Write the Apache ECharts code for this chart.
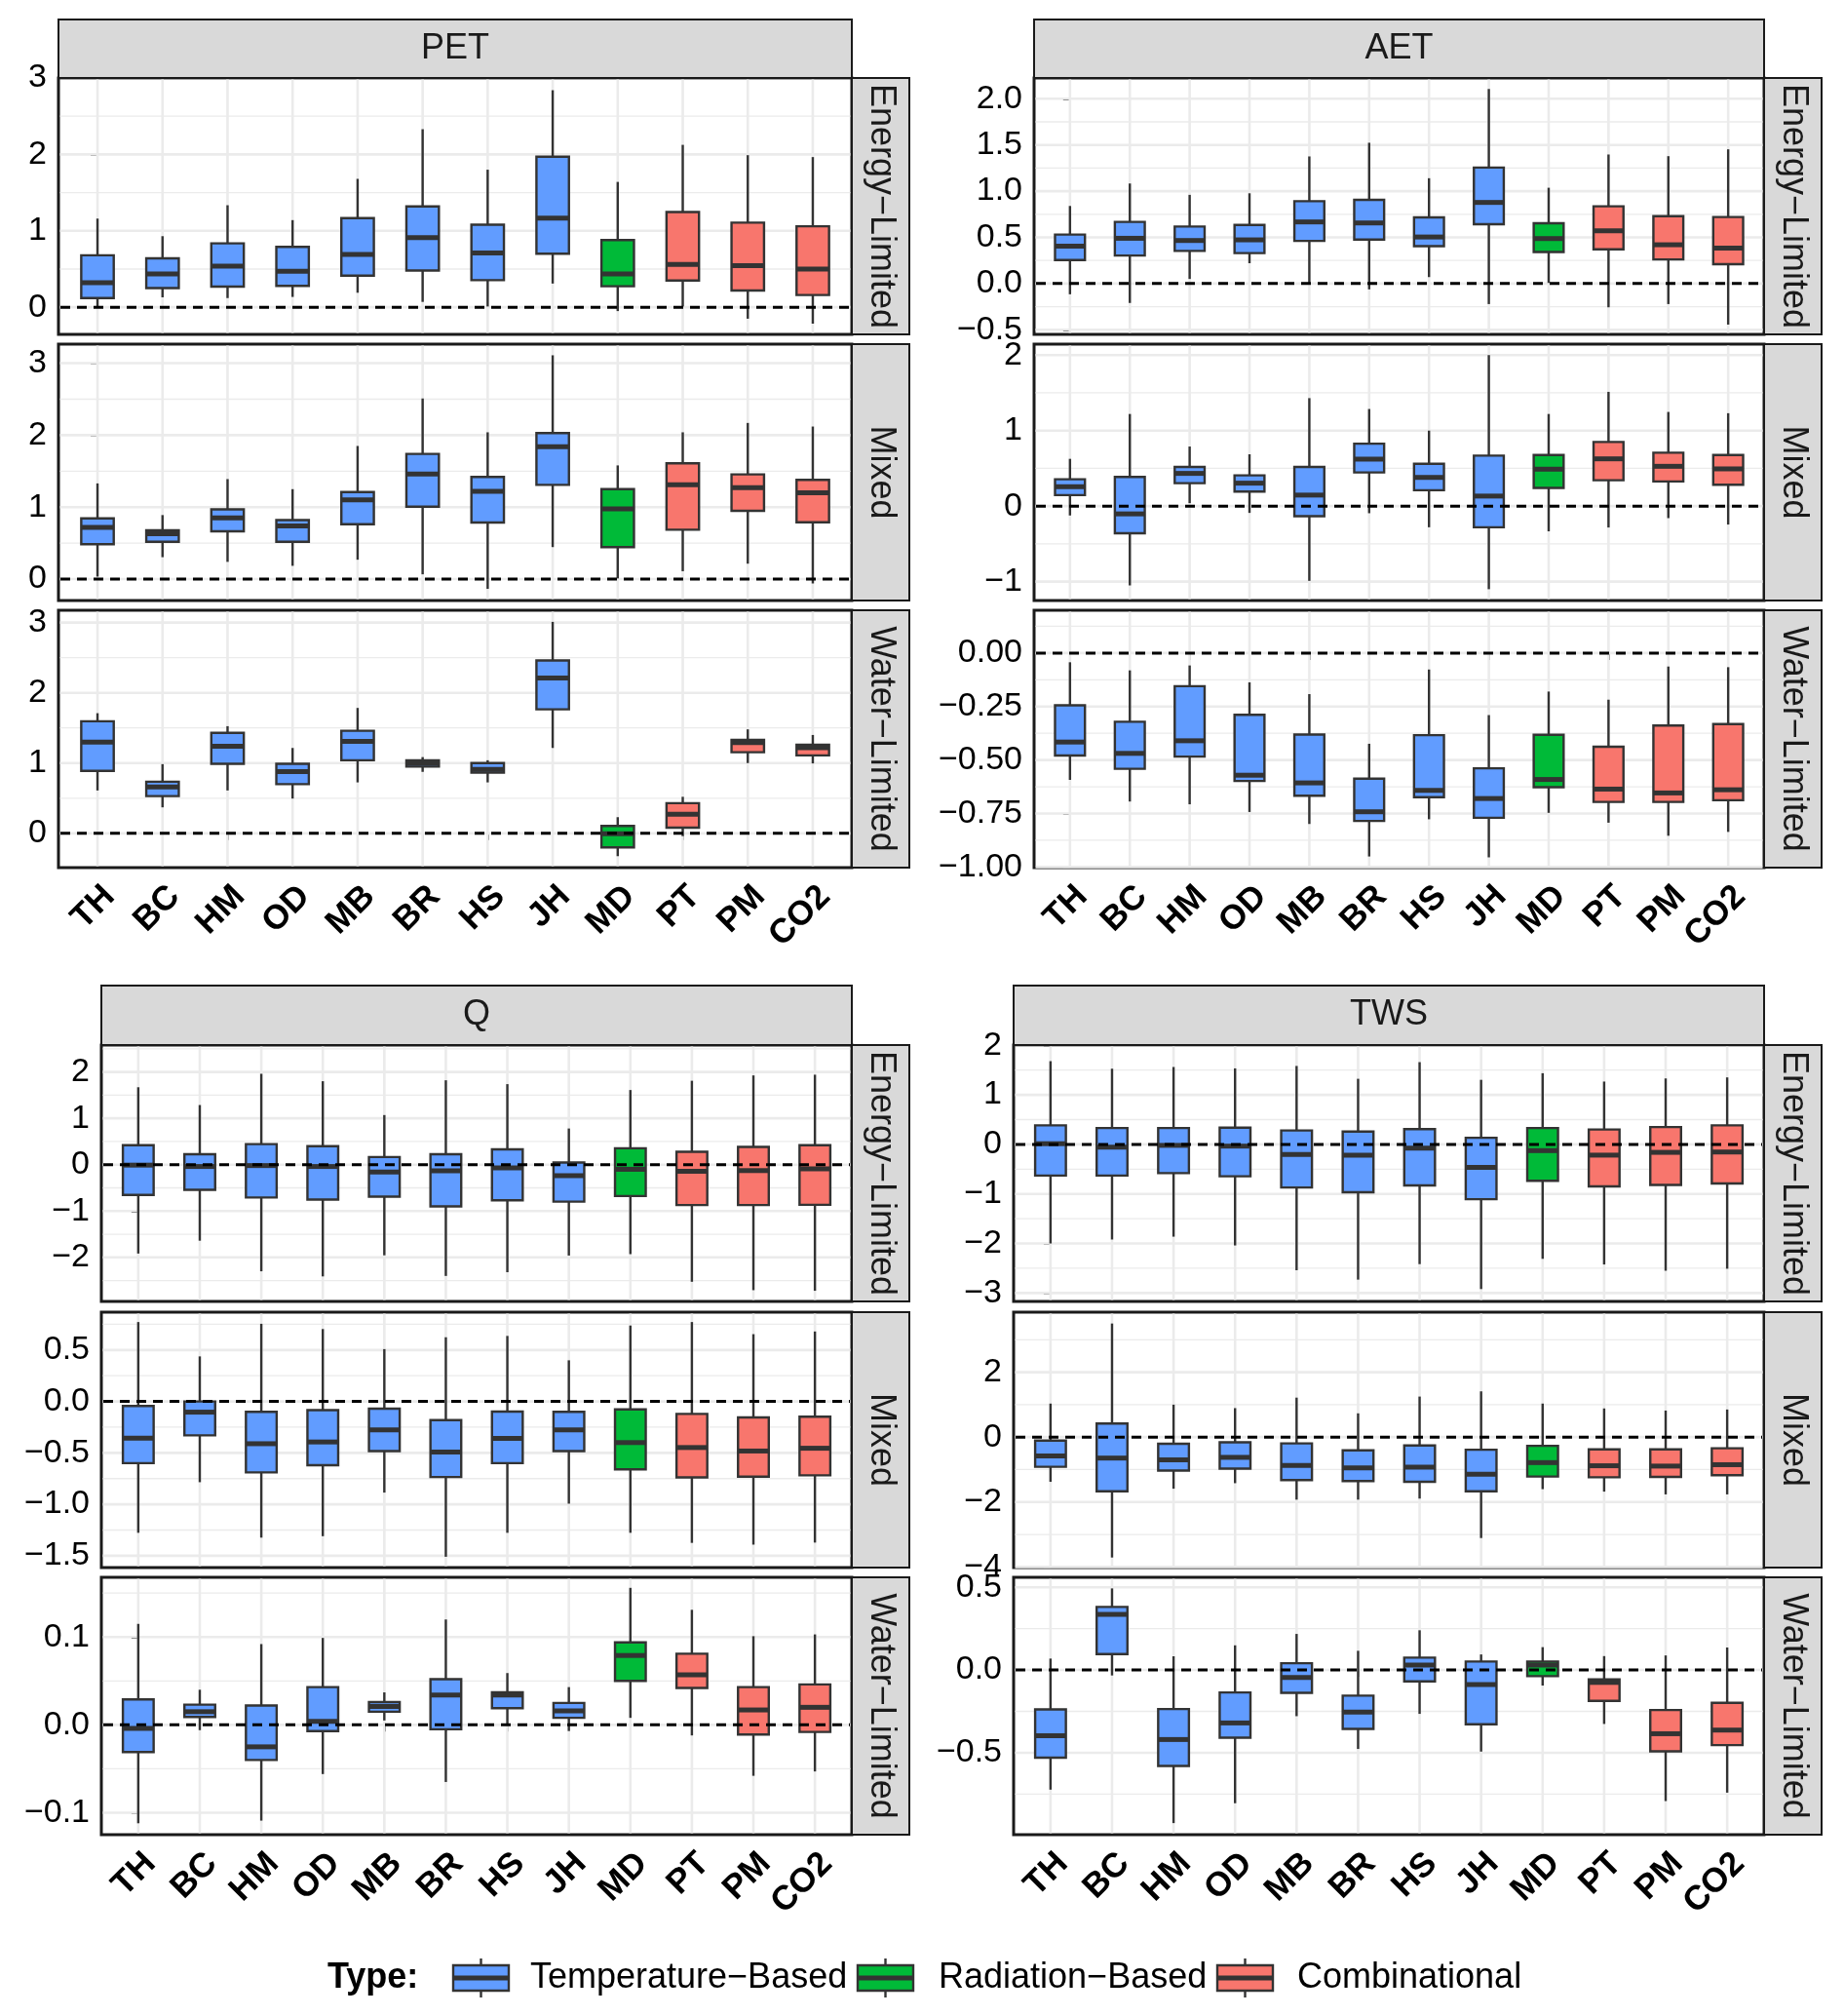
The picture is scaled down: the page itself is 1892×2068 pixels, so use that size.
<!DOCTYPE html>
<html><head><meta charset="utf-8">
<script src="https://cdn.jsdelivr.net/npm/echarts@6/dist/echarts.min.js"></script>
<style>html,body{margin:0;padding:0;background:#fff}#c{width:1892px;height:2068px}</style>
</head><body><div id="c"></div>
<script>
// ---------------- DATA ----------------
const categories = ['TH','BC','HM','OD','MB','BR','HS','JH','MD','PT','PM','CO2'];
const methodType = ['T','T','T','T','T','T','T','T','R','C','C','C'];
const typeNames = {T:'Temperature\u2212Based', R:'Radiation\u2212Based', C:'Combinational'};
const regimes = ['Energy\u2212Limited','Mixed','Water\u2212Limited'];

// each row: [lower whisker, Q1, median, Q3, upper whisker]
const PET_energy = [[-0.01,0.12,0.32,0.68,1.16],[0.13,0.25,0.435,0.64,0.93],[0.12,0.27,0.537,0.836,1.335],[0.135,0.28,0.47,0.79,1.14],[0.19,0.414,0.69,1.166,1.68],[0.07,0.48,0.91,1.32,2.33],[0.01,0.355,0.71,1.08,1.80],[0.31,0.70,1.166,1.97,2.84],[-0.05,0.275,0.435,0.88,1.64],[0.01,0.35,0.56,1.246,2.125],[-0.15,0.22,0.545,1.107,1.99],[-0.215,0.16,0.50,1.06,1.965]];
const PET_mixed = [[0.035,0.485,0.72,0.845,1.33],[0.305,0.52,0.63,0.68,0.89],[0.24,0.665,0.85,0.97,1.39],[0.185,0.52,0.74,0.82,1.25],[0.27,0.763,1.10,1.21,1.85],[0.067,1.006,1.46,1.74,2.51],[-0.135,0.786,1.22,1.42,2.04],[0.445,1.31,1.84,2.03,3.11],[0.01,0.445,0.975,1.25,1.58],[0.11,0.687,1.31,1.61,2.04],[0.215,0.95,1.27,1.455,2.17],[-0.06,0.79,1.20,1.38,2.12]];
const PET_water = [[0.61,0.89,1.30,1.595,1.71],[0.37,0.53,0.66,0.735,0.985],[0.61,0.99,1.24,1.43,1.525],[0.495,0.70,0.88,0.99,1.215],[0.725,1.04,1.31,1.46,1.785],[0.875,0.95,0.995,1.04,1.085],[0.725,0.865,0.91,1.0,1.04],[1.215,1.765,2.21,2.46,3.01],[-0.325,-0.2,-0.005,0.105,0.23],[-0.04,0.08,0.27,0.43,0.52],[1.0,1.155,1.29,1.33,1.48],[0.995,1.11,1.22,1.26,1.40]];
const AET_energy = [[-0.116,0.254,0.405,0.53,0.84],[-0.21,0.303,0.49,0.667,1.083],[0.05,0.353,0.466,0.617,0.96],[0.22,0.33,0.473,0.635,0.977],[0.007,0.462,0.667,0.892,1.376],[-0.063,0.476,0.656,0.906,1.524],[0.07,0.405,0.504,0.716,1.14],[-0.222,0.642,0.878,1.256,2.106],[0.007,0.342,0.487,0.653,1.037],[-0.257,0.37,0.571,0.836,1.397],[-0.222,0.261,0.42,0.73,1.379],[-0.444,0.21,0.384,0.72,1.453]];
const AET_mixed = [[-0.124,0.146,0.257,0.356,0.626],[-1.05,-0.36,-0.103,0.386,1.22],[0.039,0.304,0.433,0.519,0.789],[-0.09,0.193,0.304,0.407,0.686],[-0.99,-0.133,0.146,0.519,1.43],[-0.094,0.446,0.622,0.827,1.286],[-0.28,0.21,0.38,0.56,1.0],[-1.10,-0.28,0.133,0.669,2.0],[-0.334,0.24,0.489,0.677,1.22],[-0.283,0.343,0.626,0.849,1.513],[-0.159,0.326,0.527,0.707,1.247],[-0.244,0.283,0.493,0.677,1.23]];
const AET_water = [[-0.593,-0.479,-0.416,-0.244,-0.043],[-0.694,-0.541,-0.469,-0.321,-0.081],[-0.707,-0.484,-0.41,-0.155,-0.058],[-0.743,-0.598,-0.571,-0.289,-0.137],[-0.799,-0.667,-0.607,-0.381,-0.192],[-0.951,-0.785,-0.742,-0.587,-0.424],[-0.777,-0.674,-0.642,-0.384,-0.077],[-0.955,-0.77,-0.68,-0.539,-0.29],[-0.747,-0.627,-0.591,-0.382,-0.18],[-0.793,-0.696,-0.636,-0.438,-0.218],[-0.854,-0.696,-0.654,-0.339,-0.063],[-0.836,-0.688,-0.639,-0.332,-0.066]];
const Q_energy = [[-1.917,-0.654,-0.01,0.42,1.67],[-1.64,-0.541,-0.04,0.226,1.286],[-2.30,-0.707,-0.02,0.444,1.96],[-2.41,-0.752,-0.04,0.40,1.80],[-1.955,-0.69,-0.158,0.165,1.07],[-2.40,-0.90,-0.135,0.226,1.82],[-2.32,-0.767,-0.07,0.33,1.737],[-1.96,-0.797,-0.24,0.045,0.78],[-1.93,-0.677,-0.10,0.353,1.61],[-2.526,-0.872,-0.143,0.278,1.81],[-2.707,-0.872,-0.128,0.383,1.925],[-2.72,-0.865,-0.09,0.42,1.94]];
const Q_mixed = [[-1.277,-0.60,-0.357,-0.044,0.772],[-0.785,-0.33,-0.104,0.0,0.438],[-1.324,-0.69,-0.411,-0.101,0.755],[-1.31,-0.62,-0.394,-0.084,0.704],[-0.886,-0.482,-0.276,-0.07,0.509],[-1.51,-0.735,-0.492,-0.182,0.624],[-1.277,-0.60,-0.36,-0.098,0.637],[-0.994,-0.482,-0.276,-0.101,0.40],[-1.277,-0.66,-0.40,-0.078,0.738],[-1.375,-0.738,-0.448,-0.121,0.772],[-1.392,-0.731,-0.482,-0.155,0.654],[-1.372,-0.718,-0.455,-0.148,0.68]];
const Q_water = [[-0.112,-0.031,-0.004,0.029,0.115],[-0.006,0.009,0.015,0.023,0.040],[-0.109,-0.04,-0.025,0.022,0.092],[-0.056,-0.007,0.004,0.043,0.099],[0.005,0.015,0.021,0.026,0.037],[-0.065,-0.005,0.034,0.052,0.12],[0.0,0.019,0.034,0.037,0.059],[-0.007,0.008,0.016,0.025,0.043],[0.008,0.05,0.079,0.094,0.156],[-0.012,0.042,0.057,0.081,0.131],[-0.058,-0.011,0.017,0.043,0.101],[-0.053,-0.008,0.02,0.046,0.103]];
const TWS_energy = [[-2.0,-0.63,0.014,0.385,1.68],[-1.92,-0.63,-0.056,0.33,1.527],[-1.863,-0.58,-0.02,0.33,1.562],[-2.04,-0.644,-0.035,0.336,1.534],[-2.54,-0.87,-0.203,0.28,1.583],[-2.73,-0.967,-0.217,0.26,1.324],[-2.417,-0.827,-0.077,0.308,1.66],[-2.92,-1.107,-0.462,0.133,1.303],[-2.31,-0.736,-0.126,0.33,1.436],[-2.424,-0.848,-0.217,0.30,1.268],[-2.55,-0.82,-0.161,0.35,1.331],[-2.51,-0.79,-0.154,0.385,1.352]];
const TWS_mixed = [[-1.378,-0.915,-0.58,-0.108,1.033],[-3.71,-1.668,-0.646,0.42,3.50],[-1.59,-1.033,-0.70,-0.205,1.0],[-1.42,-0.969,-0.624,-0.161,0.893],[-1.927,-1.324,-0.872,-0.194,1.216],[-1.927,-1.356,-0.947,-0.409,0.732],[-1.894,-1.378,-0.926,-0.258,1.249],[-3.11,-1.668,-1.141,-0.388,1.41],[-1.604,-1.216,-0.786,-0.269,1.033],[-1.68,-1.238,-0.883,-0.377,0.883],[-1.765,-1.227,-0.893,-0.377,0.818],[-1.765,-1.173,-0.85,-0.344,0.85]];
const TWS_water = [[-0.723,-0.53,-0.397,-0.238,0.069],[-0.033,0.096,0.336,0.381,0.493],[-0.925,-0.58,-0.42,-0.236,0.083],[-0.805,-0.409,-0.32,-0.136,0.149],[-0.279,-0.138,-0.045,0.041,0.218],[-0.477,-0.356,-0.255,-0.155,0.116],[-0.265,-0.069,0.03,0.075,0.24],[-0.493,-0.328,-0.088,0.051,0.094],[-0.094,-0.037,0.03,0.051,0.138],[-0.326,-0.187,-0.075,-0.057,0.084],[-0.792,-0.491,-0.385,-0.242,0.088],[-0.741,-0.454,-0.363,-0.198,0.136]];

// y tick labels per panel
const PET_ticks = [0,1,2,3];
const AET_energy_ticks = [-0.5,0,0.5,1,1.5,2];
const AET_mixed_ticks = [-1,0,1,2];
const AET_water_ticks = [-1,-0.75,-0.5,-0.25,0];
const Q_energy_ticks = [-2,-1,0,1,2];
const Q_mixed_ticks = [-1.5,-1,-0.5,0,0.5];
const Q_water_ticks = [-0.1,0,0.1];
const TWS_energy_ticks = [-3,-2,-1,0,1,2];
const TWS_mixed_ticks = [-4,-2,0,2];
const TWS_water_ticks = [-0.5,0,0.5];

// y axis ranges per panel
const PET_ranges = [[-0.355,3.0],[-0.297,3.265],[-0.488,3.175]];
const AET_ranges = [[-0.55,2.225],[-1.25,2.145],[-1.003,0.2]];
const Q_ranges = [[-2.95,2.58],[-1.615,0.868],[-0.125,0.168]];
const TWS_ranges = [[-3.17,2.005],[-4.02,3.85],[-0.995,0.56]];

// ---------------- LAYOUT ----------------
const FONT = "'Liberation Sans', Arial, Helvetica, sans-serif";
const typeColor = {T:'#619CFF', R:'#00BA38', C:'#F8766D'};
const LINE = '#333333';
const rowYTop = [[80,343],[353,616],[626,890]];
const rowYBot = [[1072,1335],[1346,1608],[1618,1882]];
const blocks = [
  {name:'PET', x0:60, x1:874, rows:rowYTop, head:[20,80], data:[PET_energy,PET_mixed,PET_water], ticks:[PET_ticks,PET_ticks,PET_ticks], dec:[0,0,0], ranges:PET_ranges},
  {name:'AET', x0:1061, x1:1810, rows:rowYTop, head:[20,80], data:[AET_energy,AET_mixed,AET_water], ticks:[AET_energy_ticks,AET_mixed_ticks,AET_water_ticks], dec:[1,0,2], ranges:AET_ranges},
  {name:'Q', x0:104, x1:874, rows:rowYBot, head:[1011,1072], data:[Q_energy,Q_mixed,Q_water], ticks:[Q_energy_ticks,Q_mixed_ticks,Q_water_ticks], dec:[0,1,1], ranges:Q_ranges},
  {name:'TWS', x0:1040, x1:1810, rows:rowYBot, head:[1011,1072], data:[TWS_energy,TWS_mixed,TWS_water], ticks:[TWS_energy_ticks,TWS_mixed_ticks,TWS_water_ticks], dec:[0,0,1], ranges:TWS_ranges}
];
const STRIP_W = 59;

function fmt(v, dec) {
  const s = Math.abs(v).toFixed(dec);
  return (v < -1e-12 ? '\u2212' : '') + s;
}
function minorVals(ticks, range) {
  const out = [];
  const step = ticks[1] - ticks[0];
  const pts = [ticks[0] - step].concat(ticks, [ticks[ticks.length-1] + step]);
  for (let i = 0; i < pts.length - 1; i++) {
    const m = (pts[i] + pts[i+1]) / 2;
    if (m > range[0] && m < range[1]) out.push(m);
  }
  return out;
}
const catIdx = categories.map((c, i) => i);

const grids = [], xAxes = [], yAxes = [], series = [], graphics = [];
let gi = 0;
blocks.forEach(b => {
  graphics.push({type:'rect', z:10, shape:{x:b.x0, y:b.head[0], width:b.x1-b.x0, height:b.head[1]-b.head[0]},
    style:{fill:'#D9D9D9', stroke:'#1A1A1A', lineWidth:2}});
  graphics.push({type:'text', z:11, x:(b.x0+b.x1)/2, y:(b.head[0]+b.head[1])/2,
    style:{text:b.name, fontSize:36, fontFamily:FONT, fill:'#1A1A1A', align:'center', verticalAlign:'middle'}});
  b.rows.forEach((ry, r) => {
    const isBottom = r === 2;
    const ticks = b.ticks[r], range = b.ranges[r], dec = b.dec[r];
    grids.push({left:b.x0, top:ry[0], width:b.x1-b.x0, height:ry[1]-ry[0], show:true,
      backgroundColor:'#fff', borderColor:'#1A1A1A', borderWidth:3, containLabel:false});
    xAxes.push({type:'value', gridIndex:gi, min:-0.6, max:11.6,
      axisLine:{show:false}, splitLine:{show:false},
      axisTick:{show:isBottom, customValues:catIdx, length:7, lineStyle:{color:LINE, width:2}},
      axisLabel:{show:isBottom, customValues:catIdx, formatter:v => categories[Math.round(v)],
        rotate:45, align:'right', verticalAlign:'top', fontWeight:'bold', fontSize:35, fontFamily:FONT, color:'#000', margin:12}});
    yAxes.push({type:'value', gridIndex:gi, min:range[0], max:range[1],
      axisLine:{show:false}, splitLine:{show:false},
      axisTick:{show:true, customValues:ticks, length:7, lineStyle:{color:LINE, width:2}},
      axisLabel:{customValues:ticks, formatter:v => fmt(v, dec), fontSize:34, fontFamily:FONT, color:'#000', margin:12}});
    const gl = [];
    ticks.forEach(t => gl.push([0, t]));
    minorVals(ticks, range).forEach(t => gl.push([1, t]));
    catIdx.forEach(i => gl.push([2, i]));
    series.push({type:'custom', xAxisIndex:gi, yAxisIndex:gi, z:1, silent:true, data:gl,
      renderItem:(params, api) => {
        const cs = params.coordSys;
        const kind = api.value(0), v = api.value(1);
        if (kind === 2) {
          const x = api.coord([v, range[0]])[0];
          return {type:'line', shape:{x1:x, y1:cs.y+1.5, x2:x, y2:cs.y+cs.height-1.5}, style:{stroke:'#EBEBEB', lineWidth:2.6}};
        }
        const y = api.coord([0, v])[1];
        return {type:'line', shape:{x1:cs.x+1.5, y1:y, x2:cs.x+cs.width-1.5, y2:y},
          style:{stroke:'#EBEBEB', lineWidth: kind === 0 ? 2.6 : 1.3}};
      }});
    series.push({type:'custom', xAxisIndex:gi, yAxisIndex:gi, z:2, silent:true,
      data:b.data[r].map((d, i) => [i].concat(d)),
      encode:{x:0, y:[1,2,3,4,5]},
      renderItem:(params, api) => {
        const i = api.value(0);
        const pLo = api.coord([i, api.value(1)]);
        const pQ1 = api.coord([i, api.value(2)]);
        const pMed = api.coord([i, api.value(3)]);
        const pQ3 = api.coord([i, api.value(4)]);
        const pHi = api.coord([i, api.value(5)]);
        const x = pMed[0];
        const bw = api.size([1, 0])[0] * 0.5;
        const col = typeColor[methodType[i]];
        return {type:'group', children:[
          {type:'line', shape:{x1:x, y1:pHi[1], x2:x, y2:pQ3[1]}, style:{stroke:LINE, lineWidth:2.4}},
          {type:'line', shape:{x1:x, y1:pQ1[1], x2:x, y2:pLo[1]}, style:{stroke:LINE, lineWidth:2.4}},
          {type:'rect', shape:{x:x-bw/2, y:pQ3[1], width:bw, height:pQ1[1]-pQ3[1]}, style:{fill:col, stroke:LINE, lineWidth:2.4}},
          {type:'line', shape:{x1:x-bw/2, y1:pMed[1], x2:x+bw/2, y2:pMed[1]}, style:{stroke:LINE, lineWidth:5}}
        ]};
      }});
    series.push({type:'custom', xAxisIndex:gi, yAxisIndex:gi, z:3, silent:true, data:[[0, 0]],
      renderItem:(params, api) => {
        const cs = params.coordSys;
        const y = api.coord([0, 0])[1];
        return {type:'line', shape:{x1:cs.x+2, y1:y, x2:cs.x+cs.width-2, y2:y},
          style:{stroke:'#000', lineWidth:3, lineDash:[10,7]}};
      }});
    graphics.push({type:'rect', z:10, shape:{x:b.x1, y:ry[0], width:STRIP_W, height:ry[1]-ry[0]},
      style:{fill:'#D9D9D9', stroke:'#1A1A1A', lineWidth:2}});
    graphics.push({type:'text', z:11, x:b.x1+STRIP_W/2, y:(ry[0]+ry[1])/2, rotation:-Math.PI/2,
      style:{text:regimes[r], fontSize:36, fontFamily:FONT, fill:'#1A1A1A', align:'center', verticalAlign:'middle'}});
    gi++;
  });
});

// legend
const LEG_Y = 2029;
graphics.push({type:'text', z:11, x:336, y:LEG_Y, style:{text:'Type:', fontSize:36, fontWeight:'bold', fontFamily:FONT, fill:'#000', align:'left', verticalAlign:'middle'}});
const legendItems = [{t:'T', kx:465, tx:544},{t:'R', kx:880, tx:963},{t:'C', kx:1249, tx:1331}];
legendItems.forEach(it => {
  const w = 57, cx = it.kx + w/2;
  graphics.push({type:'line', z:11, shape:{x1:cx, y1:LEG_Y-20, x2:cx, y2:LEG_Y+20}, style:{stroke:LINE, lineWidth:2.4}});
  graphics.push({type:'rect', z:12, shape:{x:it.kx, y:LEG_Y-13, width:w, height:26}, style:{fill:typeColor[it.t], stroke:LINE, lineWidth:2.4}});
  graphics.push({type:'line', z:13, shape:{x1:it.kx, y1:LEG_Y, x2:it.kx+w, y2:LEG_Y}, style:{stroke:LINE, lineWidth:5}});
  graphics.push({type:'text', z:11, x:it.tx, y:LEG_Y, style:{text:typeNames[it.t], fontSize:36, fontFamily:FONT, fill:'#000', align:'left', verticalAlign:'middle'}});
});

const chart = echarts.init(document.getElementById('c'), null, {renderer:'canvas'});
chart.setOption({
  animation:false,
  backgroundColor:'#fff',
  grid:grids, xAxis:xAxes, yAxis:yAxes, series:series, graphic:graphics
});
</script>
</body></html>
